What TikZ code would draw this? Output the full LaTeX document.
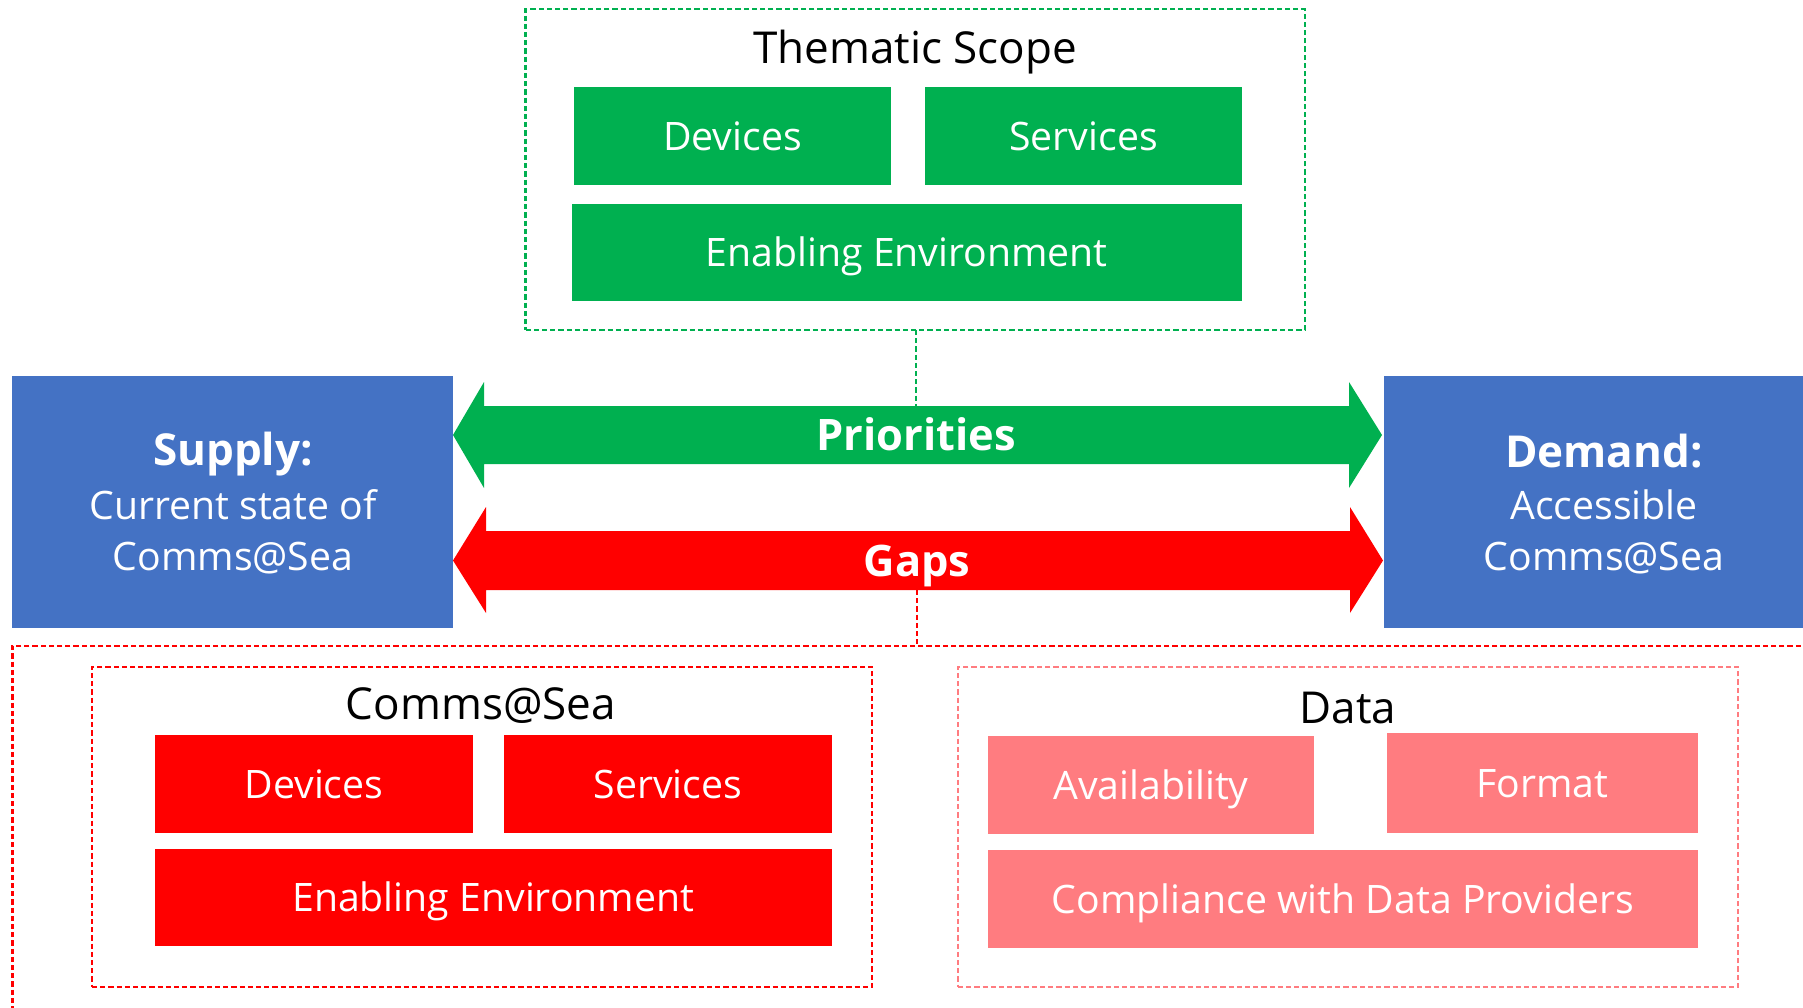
\documentclass[tikz,border=0pt]{standalone}
\usepackage{fontspec}
\setmainfont{Open Sans}
\definecolor{cgreen}{HTML}{00B050}
\definecolor{cblue}{HTML}{4472C4}
\definecolor{cred}{HTML}{FF0000}
\definecolor{cpink}{HTML}{FF7C80}
\begin{document}
\begin{tikzpicture}[x=0.5pt,y=-0.5pt,
  boxtext/.style={font=\fontsize{19.6pt}{23pt}\selectfont, text=white, text height=14pt, text depth=0pt, inner sep=0pt, outer sep=0pt},
  gbox/.style={boxtext, fill=cgreen},
  rbox/.style={boxtext, fill=cred},
  pbox/.style={boxtext, fill=cpink},
  bluebox/.style={fill=cblue, inner sep=0pt, outer sep=0pt},
  frame/.style={draw, line width=1.2pt, dash pattern=on 2.6pt off 1.5pt, inner sep=0pt, outer sep=0pt},
  conn/.style={line width=1.2pt, dash pattern=on 2.6pt off 1.5pt},
  title/.style={font=\fontsize{22pt}{26pt}\selectfont, anchor=base, inner sep=0pt},
  sidebold/.style={font=\bfseries\fontsize{22pt}{26pt}\selectfont, text=white, anchor=base, inner sep=0pt},
  sidetext/.style={font=\fontsize{19.6pt}{24pt}\selectfont, text=white, anchor=base, inner sep=0pt},
  arrowtext/.style={font=\bfseries\fontsize{21.7pt}{26pt}\selectfont, text=white, text height=15.5pt, text depth=0pt, inner sep=0pt},
]
\useasboundingbox (0,0) rectangle (1803,1007);

% Thematic scope
\node[frame, draw=cgreen, minimum width=389.7pt, minimum height=160.4pt] (thematic) at (915.3,169.6) {};
\node[title] (thtitle) at (915,63) {Thematic Scope};
\node[gbox, minimum width=158.5pt, minimum height=49pt] (gdev) at (732.5,136) {Devices};
\node[gbox, minimum width=158.5pt, minimum height=49pt] (gserv) at (1083.5,136) {Services};
\node[gbox, minimum width=335.25pt, minimum height=48.75pt] (genv) at (906.75,252.25) {Enabling Environment};

% Supply / Demand
\node[bluebox, minimum width=220.75pt, minimum height=126pt] (supply) at (232.25,502) {};
\node[sidebold] (supply1) at (233,465) {Supply:};
\node[sidetext] (supply2) at (233,519) {Current state of};
\node[sidetext] (supply3) at (233,570) {Comms@Sea};
\node[bluebox, minimum width=220.5pt, minimum height=126pt] (demand) at (1604.5,502) {};
\node[sidebold] (demand1) at (1604,467) {Demand:};
\node[sidetext] (demand2) at (1604,519) {Accessible};
\node[sidetext] (demand3) at (1604,570) {Comms@Sea};

% Arrows
\fill[cgreen] (453,435) -- (484,382) -- (484,406) -- (1349,406) -- (1349,382) -- (1382,435)
  -- (1349,488) -- (1349,464) -- (484,464) -- (484,488) -- cycle;
\node[arrowtext] (prio) at (916,435) {Priorities};
\fill[cred] (453,560.5) -- (486,507) -- (486,531) -- (1350,531) -- (1350,507) -- (1383,560.5)
  -- (1350,613) -- (1350,590) -- (486,590) -- (486,613) -- cycle;
\node[arrowtext] (gaps) at (917,560.5) {Gaps};

\coordinate (priotop) at (916,406);
\coordinate (gapsbot) at (917,590);

% Outer red frame
\node[frame, draw=cred, minimum width=908.7pt, minimum height=192pt] (outer) at (921,838) {};

% Comms@Sea
\node[frame, draw=cred, minimum width=390pt, minimum height=160pt] (comms) at (482,827) {};
\node[title] (cmtitle) at (481,719) {Comms@Sea};
\node[rbox, minimum width=159pt, minimum height=49pt] (rdev) at (314,784) {Devices};
\node[rbox, minimum width=163.75pt, minimum height=49pt] (rserv) at (667.75,784) {Services};
\node[rbox, minimum width=338.25pt, minimum height=48.5pt] (renv) at (493.25,897.5) {Enabling Environment};

% Data
\node[frame, draw=cpink, minimum width=390pt, minimum height=160pt] (data) at (1348,827) {};
\node[title] (dttitle) at (1348,723) {Data};
\node[pbox, minimum width=163pt, minimum height=49pt] (avail) at (1151,785) {Availability};
\node[pbox, minimum width=155.5pt, minimum height=50pt] (format) at (1542.5,783) {Format};
\node[pbox, minimum width=355pt, minimum height=49pt] (compl) at (1343,899) {Compliance with Data Providers};

% Connectors
\draw[conn, cgreen] (thematic.south -| priotop) -- (priotop);
\draw[conn, cred] (gapsbot) -- (gapsbot |- outer.north);
\end{tikzpicture}
\end{document}
